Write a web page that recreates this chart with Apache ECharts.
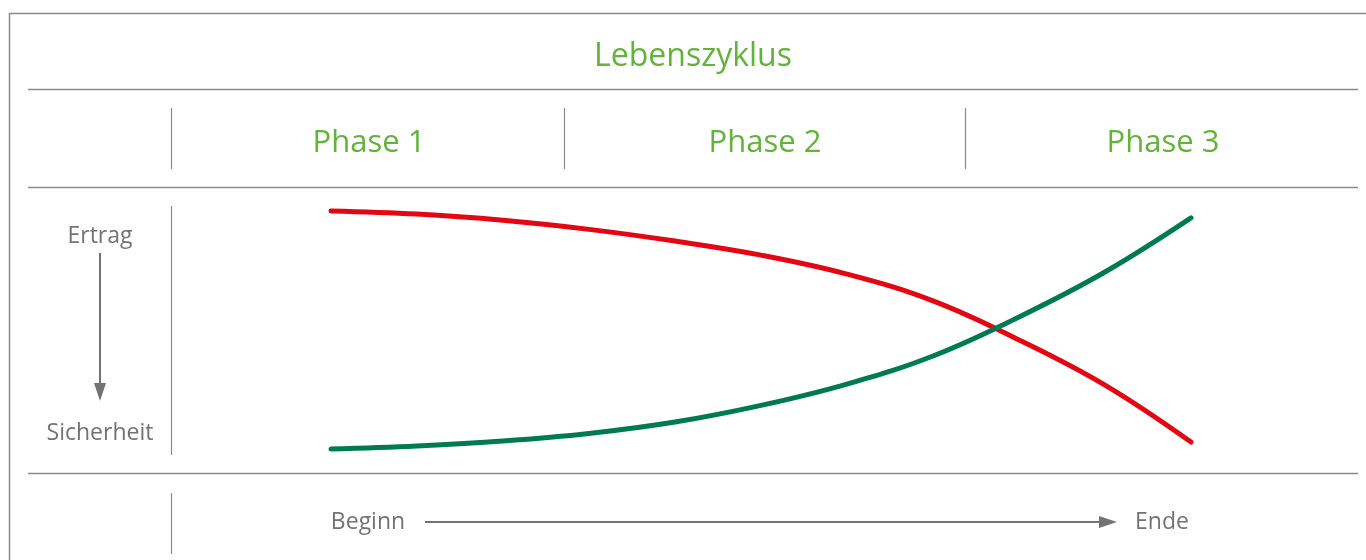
<!DOCTYPE html>
<html>
<head>
<meta charset="utf-8">
<script src="https://cdn.jsdelivr.net/npm/echarts@6/dist/echarts.min.js"></script>
<style>
html,body{margin:0;padding:0;background:#fff;}
#chart{width:1366px;height:560px;}
</style>
</head>
<body>
<div id="chart"></div>
<script>
// ---- data ----
var titleText = 'Lebenszyklus';
var phases = ['Phase 1', 'Phase 2', 'Phase 3'];
var yTopLabel = 'Ertrag';
var yBottomLabel = 'Sicherheit';
var xStartLabel = 'Beginn';
var xEndLabel = 'Ende';
var steps = [0, 1, 2, 3, 4, 5, 6, 7, 8, 9, 10];
var redValues = [95.8, 94.6, 92.2, 88.7, 84.2, 78.8, 71.5, 61.2, 46.2, 28.8, 6.9];
var greenValues = [4.2, 5.4, 7.3, 10.2, 14.6, 21.0, 29.2, 40.0, 55.0, 72.3, 93.1];

// ---- styles ----
var GREEN_TEXT = '#62b33a';
var GRAY = '#8a8a8a';
var GRAY_TEXT = '#737373';
var FONT = '"Open Sans", "Noto Sans", sans-serif';

var chart = echarts.init(document.getElementById('chart'), null, {renderer: 'canvas'});

function hline(y, x1, x2) {
  return {type: 'line', shape: {x1: x1, y1: y, x2: x2, y2: y}, style: {stroke: GRAY, lineWidth: 1.5}, silent: true};
}
function vline(x, y1, y2) {
  return {type: 'line', shape: {x1: x, y1: y1, x2: x, y2: y2}, style: {stroke: GRAY, lineWidth: 1.2}, silent: true};
}
function text(str, x, y, size, color, align) {
  return {type: 'text', x: x, y: y, style: {text: str, fill: color, font: size + 'px ' + FONT, align: align || 'center', verticalAlign: 'middle'}, silent: true};
}

var phaseCenters = [369, 765, 1163];
var phaseSeps = [171.5, 564.5, 965.5];

var graphics = [
  // outer frame
  {type: 'rect', shape: {x: 9.5, y: 13.5, width: 1400, height: 600}, style: {stroke: GRAY, lineWidth: 1.5, fill: null}, silent: true},
  hline(89.5, 28, 1358),
  hline(187.5, 28, 1358),
  hline(473.5, 28, 1358),
  text(titleText, 693, 57, 32, GREEN_TEXT)
];
phases.forEach(function (p, i) {
  graphics.push(text(p, phaseCenters[i], 143, 31, GREEN_TEXT));
  graphics.push(vline(phaseSeps[i], 108, 169));
});
graphics.push(vline(171.5, 206, 455));
graphics.push(vline(171.5, 493, 554));
graphics.push(text(yTopLabel, 100, 236, 23, GRAY_TEXT));
graphics.push(text(yBottomLabel, 100, 433, 23, GRAY_TEXT));
// vertical arrow
graphics.push({type: 'line', shape: {x1: 100, y1: 253, x2: 100, y2: 386}, style: {stroke: GRAY_TEXT, lineWidth: 2}, silent: true});
graphics.push({type: 'polygon', shape: {points: [[94, 383], [106, 383], [100, 401]]}, style: {fill: GRAY_TEXT}, silent: true});
// horizontal arrow
graphics.push(text(xStartLabel, 368, 522, 23, GRAY_TEXT));
graphics.push(text(xEndLabel, 1162, 522, 23, GRAY_TEXT));
graphics.push({type: 'line', shape: {x1: 425, y1: 522, x2: 1102, y2: 522}, style: {stroke: GRAY_TEXT, lineWidth: 2}, silent: true});
graphics.push({type: 'polygon', shape: {points: [[1099, 516], [1099, 528], [1117, 522]]}, style: {fill: GRAY_TEXT}, silent: true});

function pairs(vals) {
  return steps.map(function (s, i) { return [s, vals[i]]; });
}

chart.setOption({
  animation: false,
  backgroundColor: '#fff',
  grid: {left: 331, right: 175, top: 200, bottom: 100},
  xAxis: {type: 'value', min: 0, max: 10, show: false},
  yAxis: {type: 'value', min: 0, max: 100, show: false},
  graphic: graphics,
  series: [
    {
      name: yTopLabel, type: 'line', data: pairs(redValues), smooth: 0.4,
      showSymbol: false, symbol: 'none',
      lineStyle: {color: '#e30613', width: 5, cap: 'round'}
    },
    {
      name: yBottomLabel, type: 'line', data: pairs(greenValues), smooth: 0.4,
      showSymbol: false, symbol: 'none',
      lineStyle: {color: '#007a53', width: 5, cap: 'round'}
    }
  ]
});
</script>
</body>
</html>
